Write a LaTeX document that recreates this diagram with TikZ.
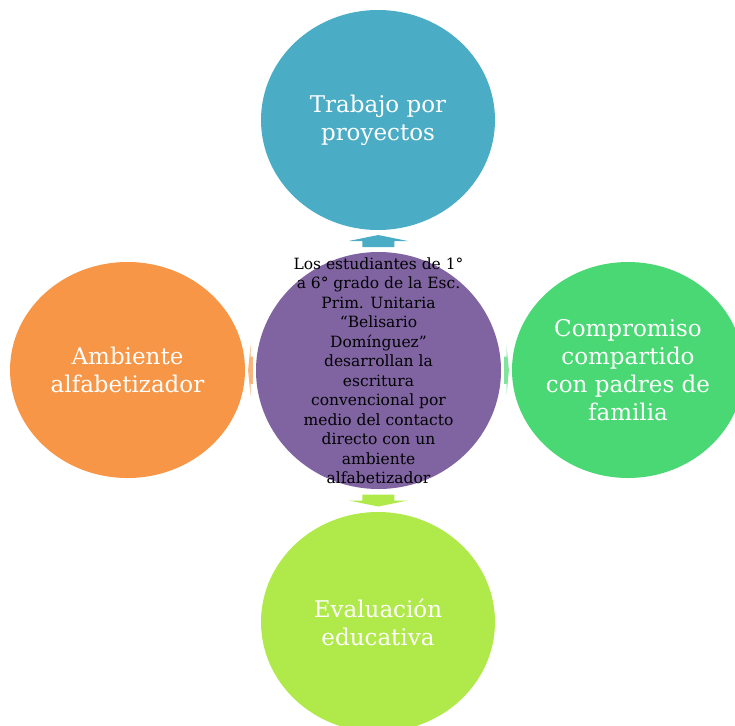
\documentclass[tikz,border=0pt]{standalone}
\usepackage{fontspec}
\setmainfont{DejaVu Serif}
\usetikzlibrary{calc, shapes.geometric}

\definecolor{azul}{HTML}{4BACC6}
\definecolor{morado}{HTML}{8064A2}
\definecolor{naranja}{HTML}{F79646}
\definecolor{verde}{HTML}{4AD874}
\definecolor{lima}{HTML}{B0EA4A}

\begin{document}
\begin{tikzpicture}[x=1pt,y=-1pt,
  burbuja/.style={ellipse, inner sep=0pt, text=white, align=center,
    font=\fontsize{23}{28}\selectfont},
  flecha/.pic={\fill[pic actions] (-6,-16) -- (0,-16) -- (0,-29.5) -- (6,0)
    -- (0,29.5) -- (0,16) -- (-6,16) -- cycle;}]
\useasboundingbox (0,0) rectangle (735,725);
% Draw bubbles
\node[burbuja, fill=azul, minimum width=234, minimum height=220] (trabajo) at (378,120) {Trabajo por\\proyectos};
\node[burbuja, fill=morado, minimum width=245, minimum height=237] (centro) at (378.5,370.5) {};
\node[burbuja, fill=naranja, minimum width=235, minimum height=216] (ambiente) at (127.5,370) {Ambiente\\alfabetizador};
\node[burbuja, fill=verde, minimum width=230, minimum height=216] (compromiso) at (628,370) {Compromiso\\compartido\\con padres de\\familia};
\node[burbuja, fill=lima, minimum width=234, minimum height=220] (evaluacion) at (378,622) {Evaluación\\educativa};
% Text of the center
\node[align=center, font=\fontsize{15.5}{19.5}\selectfont] (tesis) at (centro) {Los estudiantes de 1°\\a 6° grado de la Esc.\\Prim. Unitaria\\“Belisario\\Domínguez”\\desarrollan la\\escritura\\convencional por\\medio del contacto\\directo con un\\ambiente\\alfabetizador};
% Draw arrows
\pic[fill=azul, rotate=90] at ($(trabajo.south)!.5!(centro.north)$) {flecha};
\pic[fill=lima, rotate=-90] at ($(centro.south)!.5!(evaluacion.north)$) {flecha};
\pic[fill=naranja, opacity=.7, rotate=180, xscale=.4, yscale=.85] at ($(ambiente.east)!.5!(centro.west)$) {flecha};
\pic[fill=verde, opacity=.7, xscale=.4, yscale=.85] at ($(centro.east)!.5!(compromiso.west)$) {flecha};
\end{tikzpicture}
\end{document}
